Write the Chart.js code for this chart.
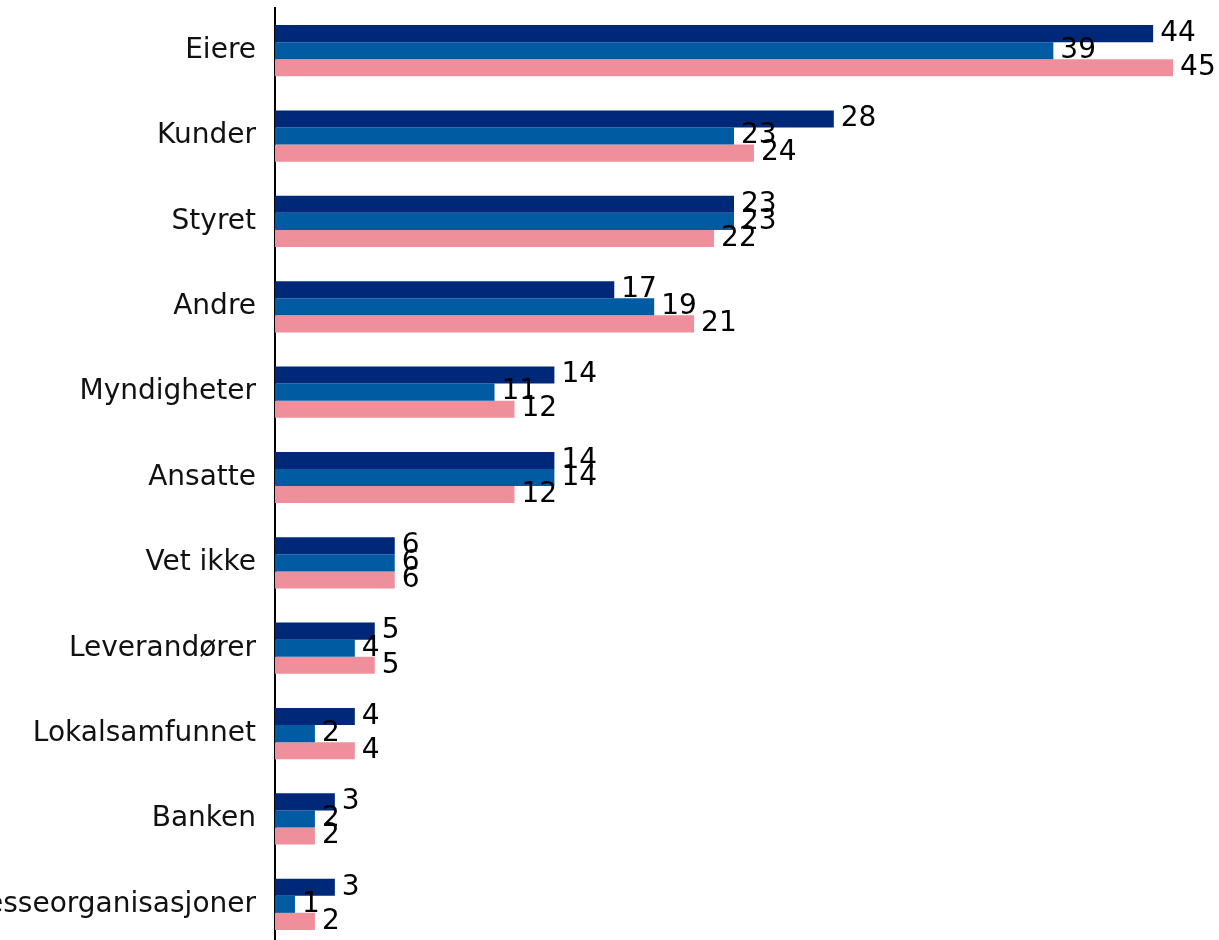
<!DOCTYPE html>
<html lang="no">
<head>
  <meta charset="UTF-8" />
  <title>Interessenter</title>
  <script src="https://cdn.jsdelivr.net/npm/chart.js"></script>
  <style>
    html, body {
      margin: 0;
      background: #fff;
      overflow: hidden;
    }
    #wrap {
      position: relative;
      width: 1219px;
      height: 947px;
    }
  </style>
</head>
<body>
  <div id="wrap"><canvas id="chart"></canvas></div>

  <script>
    const categories = ["Eiere", "Kunder", "Styret", "Andre", "Myndigheter", "Ansatte",
      "Vet ikke", "Leverandører", "Lokalsamfunnet", "Banken", "Interesseorganisasjoner"];
    const seriesA = [44, 28, 23, 17, 14, 14, 6, 5, 4, 3, 3];
    const seriesB = [39, 23, 23, 19, 11, 14, 6, 4, 2, 2, 1];
    const seriesC = [45, 24, 22, 21, 12, 12, 6, 5, 4, 2, 2];

    const fontFamily = "'DejaVu Sans', sans-serif";

    // value labels at the end of each bar
    const barLabels = {
      id: 'barLabels',
      afterDatasetsDraw(chart) {
        const ctx = chart.ctx;
        ctx.save();
        ctx.font = "28px " + fontFamily;
        ctx.fillStyle = "#000";
        ctx.textAlign = "left";
        ctx.textBaseline = "middle";
        chart.data.datasets.forEach((ds, i) => {
          chart.getDatasetMeta(i).data.forEach((bar, j) => {
            ctx.fillText(ds.data[j], bar.x + 7, bar.y);
          });
        });
        ctx.restore();
      }
    };

    new Chart(document.getElementById("chart"), {
      type: 'bar',
      data: {
        labels: categories,
        datasets: [
          { data: seriesA, backgroundColor: '#002878' },
          { data: seriesB, backgroundColor: '#005ba3' },
          { data: seriesC, backgroundColor: '#ef8f9b' }
        ]
      },
      options: {
        indexAxis: 'y',
        responsive: true,
        maintainAspectRatio: false,
        animation: false,
        layout: { padding: { top: 8, right: 6, left: 0, bottom: 0 } },
        datasets: {
          bar: { categoryPercentage: 0.6, barPercentage: 1.0 }
        },
        plugins: {
          legend: { display: false },
          tooltip: { enabled: false }
        },
        scales: {
          x: {
            display: false,
            min: 0,
            max: 47
          },
          y: {
            afterFit(scale) {
              scale.width = 275;
              scale.paddingTop = 0;
              scale.paddingBottom = 0;
            },
            grid: { display: false },
            border: { display: true, color: '#000', width: 2 },
            ticks: {
              color: '#111',
              padding: 11,
              font: { family: fontFamily, size: 28 }
            }
          }
        }
      },
      plugins: [barLabels]
    });
  </script>
</body>
</html>
